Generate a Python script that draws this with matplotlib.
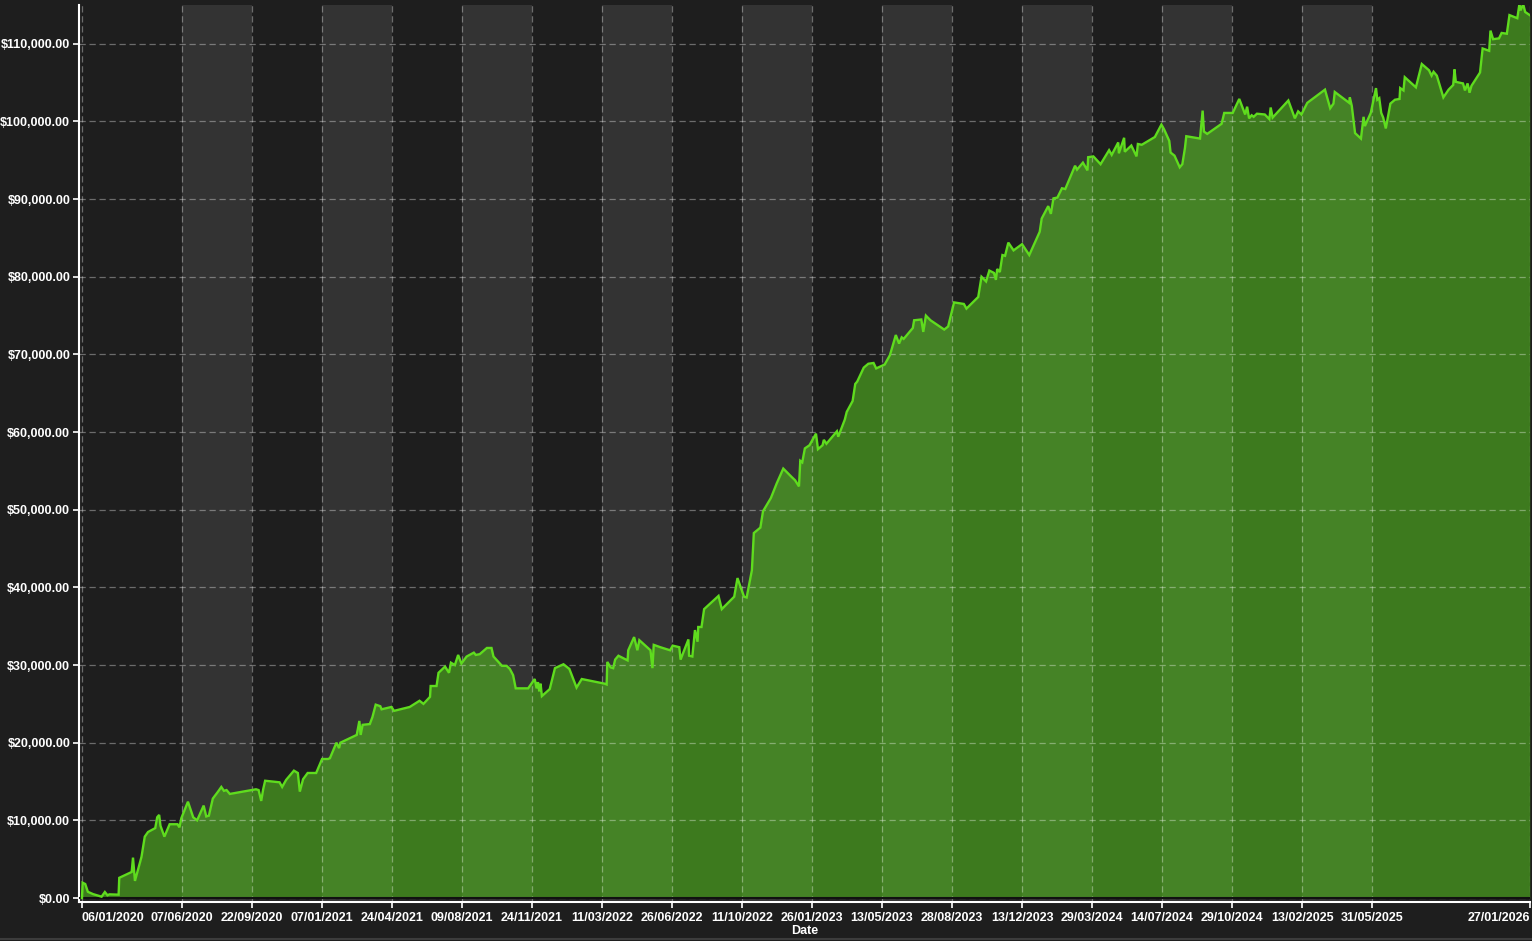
import matplotlib
matplotlib.use("Agg")
import matplotlib.pyplot as plt
import matplotlib.dates as mdates
from matplotlib.ticker import FuncFormatter, FixedLocator
from matplotlib.lines import Line2D
import numpy as np
import pandas as pd

# ---------------- data ----------------
start_date = "2020-01-06"
# elapsed days since start_date for each equity observation
day_offsets = [
    0, 1, 5, 9, 17, 30, 35, 39, 42, 56, 57, 76, 78, 81, 91, 96, 101, 112, 115, 118,
    120, 126, 134, 146, 149, 152, 162, 170, 176, 186, 190, 194, 200, 208, 213, 217,
    221, 226, 266, 270, 274, 277, 280, 302, 306, 312, 324, 330, 333, 338, 345, 358,
    367, 376, 379, 389, 393, 395, 420, 424, 426, 429, 440, 444, 449, 456, 458, 473,
    477, 501, 516, 522, 532, 533, 542, 545, 555, 561, 564, 570, 575, 580, 588, 599,
    602, 608, 619, 626, 629, 642, 649, 654, 659, 663, 682, 692, 695, 697, 699, 701,
    703, 715, 723, 736, 745, 756, 764, 799, 802, 803, 808, 812, 815, 820, 834, 835,
    844, 849, 852, 869, 872, 874, 884, 899, 903, 913, 915, 927, 928, 933, 937, 941,
    942, 947, 951, 973, 978, 997, 1002, 1012, 1016, 1024, 1027, 1037, 1041, 1053,
    1062, 1072, 1085, 1090, 1096, 1098, 1101, 1105, 1112, 1122, 1125, 1132, 1134,
    1138, 1154, 1156, 1166, 1169, 1178, 1182, 1185, 1195, 1202, 1210, 1214, 1227,
    1235, 1244, 1249, 1253, 1256, 1270, 1272, 1283, 1286, 1290, 1297, 1318, 1324,
    1333, 1348, 1352, 1370, 1375, 1382, 1387, 1394, 1397, 1399, 1403, 1407, 1411,
    1416, 1424, 1437, 1448, 1464, 1467, 1477, 1481, 1485, 1491, 1498, 1503, 1518,
    1521, 1530, 1537, 1538, 1546, 1557, 1570, 1574, 1584, 1585, 1593, 1594, 1604,
    1612, 1614, 1620, 1640, 1650, 1654, 1662, 1664, 1670, 1678, 1682, 1686, 1688,
    1709, 1713, 1715, 1720, 1742, 1746, 1759, 1769, 1774, 1778, 1781, 1784, 1788,
    1791, 1796, 1808, 1815, 1817, 1820, 1844, 1854, 1859, 1864, 1873, 1900, 1908,
    1913, 1915, 1937, 1938, 1941, 1946, 1955, 1959, 1961, 1970, 1978, 1980, 1983,
    1986, 1989, 1993, 2000, 2007, 2014, 2015, 2020, 2022, 2039, 2048, 2059, 2063,
    2066, 2071, 2081, 2089, 2096, 2098, 2100, 2111, 2114, 2118, 2121, 2124, 2137,
    2141, 2151, 2153, 2157, 2166, 2170, 2178, 2182, 2194, 2197, 2199, 2203, 2206,
    2213,
]
# account equity in thousands of dollars
equity_k = [
    0.0, 1.97, 1.8, 0.8, 0.5, 0.17, 0.77, 0.35, 0.47, 0.43, 2.6, 3.35, 5.2, 2.2, 5.3,
    7.9, 8.5, 9.0, 10.4, 10.7,
    9.3, 7.9, 9.5, 9.5, 9.1, 10.3, 12.4, 10.4, 10.0, 11.9, 10.5, 10.6, 12.8, 13.7, 14.3, 13.8,
    13.9, 13.4, 14.0, 13.9, 12.5, 14.0, 15.1, 14.9, 14.3, 15.2, 16.4, 16.1, 13.7, 15.3, 16.1, 16.1,
    17.9, 17.9, 18.0, 20.0, 19.3, 20.0, 21.0, 22.8, 21.0, 22.3, 22.4, 23.3, 24.9, 24.7, 24.3, 24.6,
    24.1, 24.6, 25.4, 25.0, 25.9, 27.3, 27.3, 29.0, 29.8, 29.0, 30.3, 30.0, 31.3, 30.2, 31.1, 31.6,
    31.3, 31.4, 32.2, 32.2, 31.1, 29.9, 29.9, 29.5, 28.7, 27.0, 27.0, 28.2, 27.0, 27.8, 26.6, 27.6,
    26.0, 26.9, 29.6, 30.1, 29.5, 27.1, 28.2, 27.6, 27.5, 30.4, 29.7, 29.6, 30.7, 31.2, 30.6, 31.9,
    33.6, 31.9, 33.2, 31.9, 29.6, 32.6, 32.3, 31.9, 32.5, 32.3, 30.7, 33.3, 31.2, 31.1, 34.5, 33.0,
    34.9, 34.9, 37.2, 38.9, 37.2, 38.8, 41.2, 38.8, 38.7, 42.2, 47.0, 47.7, 49.8, 51.5,
    53.4, 55.3, 54.2, 53.8, 53.0, 56.3, 56.1, 57.9, 58.3, 59.8, 57.8, 58.3, 59.0,
    58.5, 60.1, 59.4, 61.6, 62.6, 64.0, 66.2, 66.5, 68.3, 68.8, 68.9, 68.2, 68.7,
    69.9, 72.5, 71.4, 72.2, 72.0, 73.4, 74.4, 74.5, 72.9, 75.0, 74.4, 73.2, 73.6,
    76.7, 76.5, 75.9, 77.4, 80.0, 79.4, 80.8, 80.5, 79.6, 81.0, 80.6, 82.8, 82.7,
    84.4, 83.4, 84.2, 82.8, 85.8, 87.5, 89.1, 88.1, 90.1, 90.2, 91.4, 91.3, 94.3,
    93.8, 94.7, 93.7, 95.4, 95.5, 94.5, 96.3, 95.7, 97.3, 95.9, 97.9, 96.1, 96.9,
    95.5, 97.1, 97.0, 98.0, 99.6, 99.0, 97.5, 96.0, 95.6, 94.1, 94.5, 96.6, 98.1,
    97.8, 101.4, 98.7, 98.4, 99.7, 101.1, 101.1, 102.9, 101.8, 100.9, 101.9, 100.4, 100.8,
    100.6, 101.0, 100.9, 100.3, 101.8, 100.5, 102.7, 100.4, 101.3, 100.9, 102.4, 104.1, 101.7,
    102.3, 103.8, 102.4, 103.1, 102.0, 98.5, 97.8, 100.6, 99.4, 101.1, 104.3, 102.8, 103.0,
    101.1, 100.5, 99.1, 102.3, 102.8, 102.9, 104.3, 104.0, 105.7, 104.4, 107.4, 106.6, 105.9,
    106.4, 105.9, 103.1, 104.1, 104.7, 106.7, 105.1, 104.9, 104.0, 104.9, 103.7, 104.6, 106.3,
    109.4, 109.1, 111.7, 110.6, 110.7, 111.4, 111.3, 113.7, 113.3, 115.0, 114.3, 115.1, 114.1,
    113.7,
]

tick_labels = [
    "06/01/2020", "07/06/2020", "22/09/2020", "07/01/2021", "24/04/2021",
    "09/08/2021", "24/11/2021", "11/03/2022", "26/06/2022", "11/10/2022",
    "26/01/2023", "13/05/2023", "28/08/2023", "13/12/2023", "29/03/2024",
    "14/07/2024", "29/10/2024", "13/02/2025", "31/05/2025", "27/01/2026",
]
y_ticks = [0, 10000, 20000, 30000, 40000, 50000, 60000, 70000, 80000, 90000, 100000, 110000]

# ---------------- style ----------------
BG = "#1e1e1e"
BAND = "#333333"
FILL = (82 / 255, 185 / 255, 30 / 255)
LINE = "#5fdc1e"
TXT = "white"

dates = pd.to_datetime(start_date) + pd.to_timedelta(day_offsets, unit="D")
equity = np.array(equity_k) * 1000.0
tick_dates = pd.to_datetime(tick_labels, format="%d/%m/%Y")

fig = plt.figure(figsize=(15.32, 9.41), dpi=100, facecolor=BG)
ax = fig.add_axes([78.5 / 1532, 1 - 902 / 941, (1530 - 78.5) / 1532, (902 - 5) / 941])
ax.set_facecolor(BG)

# alternating shaded bands between the regular ticks
regular = tick_dates[:-1]
for i in range(1, len(regular) - 1, 2):
    ax.axvspan(regular[i], regular[i + 1], color=BAND, lw=0, zorder=0)

ax.fill_between(dates, 0, equity, color=FILL, alpha=0.6, lw=0, zorder=2)
ax.plot(dates, equity, color=LINE, lw=1.7, zorder=4, solid_joinstyle="miter")
ax.axhline(0, color="#111111", lw=1.5, zorder=3)

ax.set_xlim(pd.to_datetime(start_date) - pd.Timedelta(days=5.3),
            pd.to_datetime(start_date) + pd.Timedelta(days=2213.4))
ax.set_ylim(-515, 115000)

ax.xaxis.set_major_locator(FixedLocator(mdates.date2num(tick_dates)))
ax.set_xticklabels(tick_labels)
ax.set_yticks(y_ticks)
ax.yaxis.set_major_formatter(FuncFormatter(lambda v, p: f"${v:,.2f}"))

for lab in ax.get_xticklabels() + ax.get_yticklabels():
    lab.set_fontfamily("Liberation Sans")
    lab.set_fontweight("bold")
    lab.set_fontsize(9)
    lab.set_color(TXT)
xl = ax.get_xticklabels()
xl[0].set_horizontalalignment("left")
xl[-1].set_horizontalalignment("right")

ax.tick_params(axis="both", colors=TXT, length=4, width=1.2)
ax.tick_params(axis="x", pad=3)
ax.tick_params(axis="y", pad=2)

ax.grid(True, color="white", alpha=0.35, lw=0.9, linestyle=(0, (5, 3)), zorder=5)
ax.set_axisbelow(False)

for s in ["top", "right"]:
    ax.spines[s].set_visible(False)
for s in ["left", "bottom"]:
    ax.spines[s].set_color("white")
    ax.spines[s].set_linewidth(1.5)

ax.set_xlabel("Date", color=TXT, fontsize=9, fontweight="bold",
              fontfamily="Liberation Sans", labelpad=1)

fig.add_artist(Line2D([0, 1], [1 - 938.5 / 941] * 2, color="#3c3c3c", lw=1.5,
                      transform=fig.transFigure))

fig.savefig("out.png", dpi=100, facecolor=BG)
